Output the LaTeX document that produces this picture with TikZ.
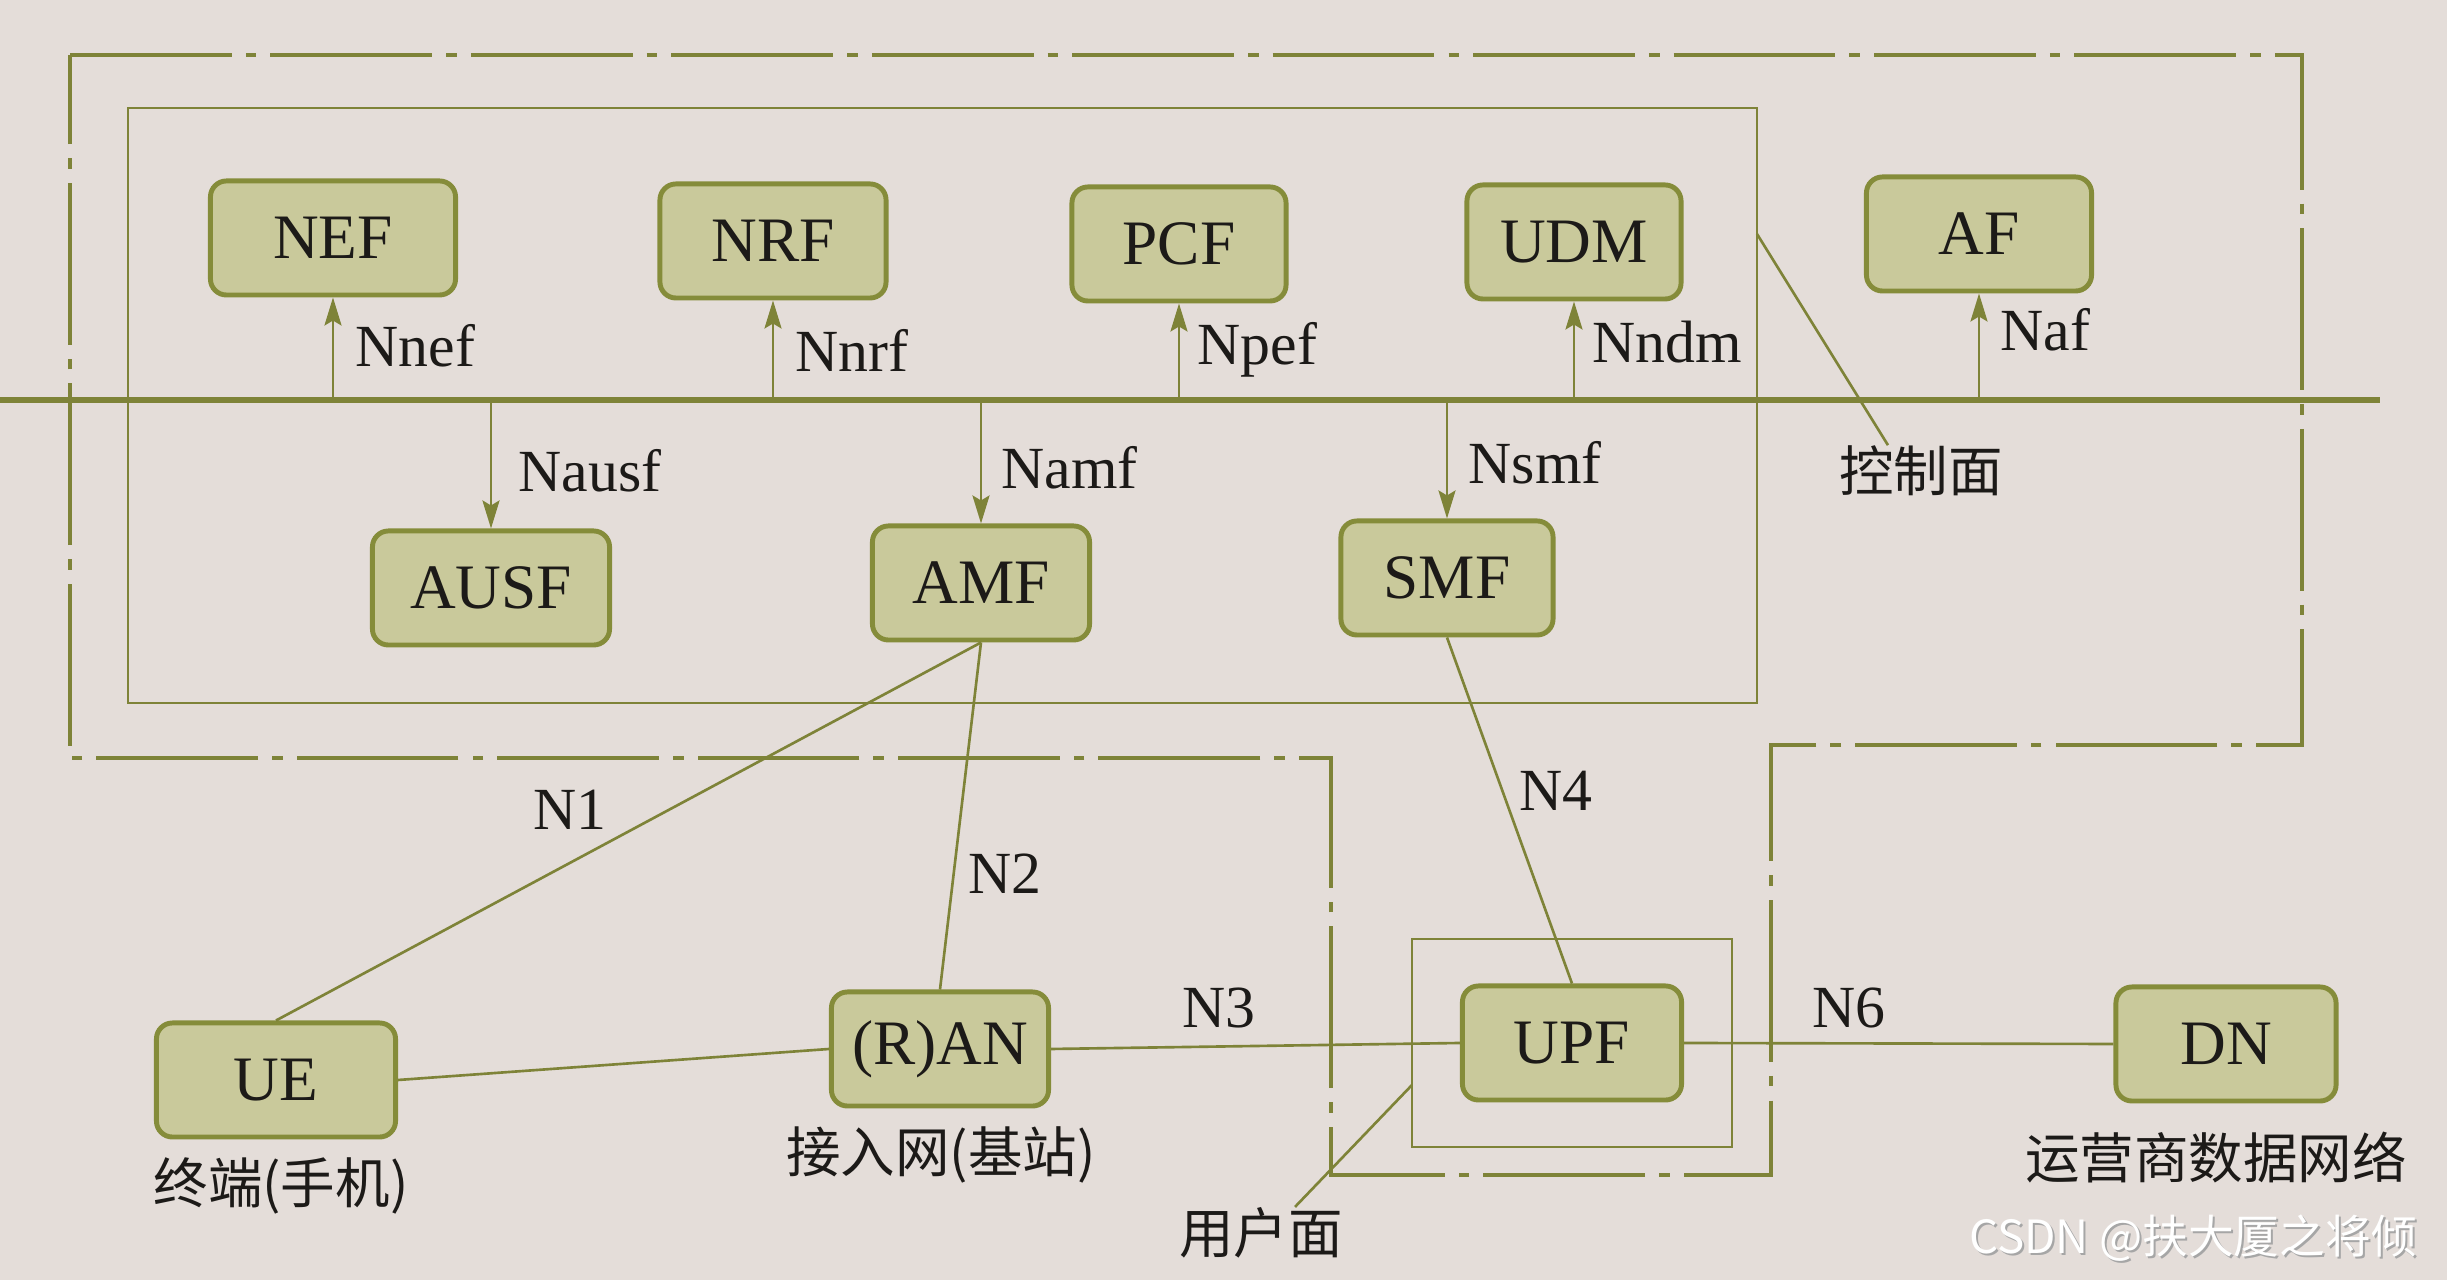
\documentclass[tikz,border=0pt]{standalone}
\usepackage{fontspec}
\setmainfont{Liberation Serif}
\newfontfamily\cjk{Noto Sans CJK SC}
\usetikzlibrary{arrows.meta,calc}
\definecolor{paper}{HTML}{E4DDD9}
\definecolor{olive}{HTML}{7E8338}
\definecolor{boxfill}{HTML}{C9C99B}
\definecolor{boxline}{HTML}{858C3A}
\definecolor{ink}{HTML}{1C1A18}
\begin{document}
\begin{tikzpicture}[x=0.01cm,y=-0.01cm,
  nf/.style={draw=boxline, line width=1.4pt, fill=boxfill, rounded corners=0.16cm,
    minimum height=1.14cm, text=ink, font=\fontsize{18}{20}\selectfont, inner sep=2pt},
  lbl/.style={text=ink, font=\fontsize{17}{19}\selectfont, inner sep=0pt},
  cn/.style={text=ink, font=\cjk\fontsize{15.5}{17}\selectfont, inner sep=0pt},
  thin/.style={draw=olive, line width=0.75pt},
  bus/.style={draw=olive, line width=1.7pt},
  arr/.style={draw=olive, line width=0.75pt, -{Stealth[length=0.28cm,width=0.17cm,inset=0.05cm]}},
  ddot/.style={draw=olive, line width=0.9pt, dash pattern=on 46pt off 4pt on 3pt off 4pt}
]
\fill[paper] (0,0) rectangle (2447,1280);
\useasboundingbox (0,0) rectangle (2447,1280);

% frames
\draw[ddot] (70,55) -- (2302,55) -- (2302,745) -- (1771,745) -- (1771,1175)
  -- (1331,1175) -- (1331,758) -- (70,758) -- cycle;
\draw[thin] (128,108) rectangle (1757,703);
\draw[thin] (1412,939) rectangle (1732,1147);

% service bus
\coordinate (busL) at (0,400);
\coordinate (busR) at (2380,400);
\draw[bus] (busL) -- (busR);

% nodes
\node[nf, minimum width=2.45cm] (NEF) at (333,238) {NEF};
\node[nf, minimum width=2.26cm] (NRF) at (773,241) {NRF};
\node[nf, minimum width=2.14cm] (PCF) at (1179,244) {PCF};
\node[nf, minimum width=2.14cm] (UDM) at (1574,242) {UDM};
\node[nf, minimum width=2.25cm] (AF)  at (1979,234) {AF};
\node[nf, minimum width=2.37cm] (AUSF) at (491,588) {AUSF};
\node[nf, minimum width=2.17cm] (AMF) at (981,583) {AMF};
\node[nf, minimum width=2.12cm] (SMF) at (1447,578) {SMF};
\node[nf, minimum width=2.39cm] (UE)  at (276,1080) {UE};
\node[nf, minimum width=2.17cm] (RAN) at (940,1049) {(R)AN};
\node[nf, minimum width=2.19cm] (UPF) at (1572,1043) {UPF};
\node[nf, minimum width=2.20cm] (DN)  at (2226,1044) {DN};

% service interfaces
\draw[arr] (NEF.south |- busL) -- (NEF.south);
\draw[arr] (NRF.south |- busL) -- (NRF.south);
\draw[arr] (PCF.south |- busL) -- (PCF.south);
\draw[arr] (UDM.south |- busL) -- (UDM.south);
\draw[arr] (AF.south |- busL) -- (AF.south);
\draw[arr] (AUSF.north |- busL) -- (AUSF.north);
\draw[arr] (AMF.north |- busL) -- (AMF.north);
\draw[arr] (SMF.north |- busL) -- (SMF.north);

\node[lbl, anchor=west] (lnef) at (355,346) {Nnef};
\node[lbl, anchor=west] (lnrf) at (795,350) {Nnrf};
\node[lbl, anchor=west] (lpcf) at (1197,350) {Npef};
\node[lbl, anchor=west] (ludm) at (1592,342) {Nndm};
\node[lbl, anchor=west] (laf)  at (2000,330) {Naf};
\node[lbl, anchor=west] (lausf) at (518,471) {Nausf};
\node[lbl, anchor=west] (lamf) at (1001,468) {Namf};
\node[lbl, anchor=west] (lsmf) at (1468,463) {Nsmf};

% reference points
\draw[thin] (UE.north) -- (AMF.south);
\draw[thin] (RAN.north) -- (AMF.south);
\draw[thin] (UE.east) -- (RAN.west);
\draw[thin] (RAN.east) -- (UPF.west);
\draw[thin] (SMF.south) -- (UPF.north);
\draw[thin] (UPF.east) -- (DN.west);

\node[lbl] (n1) at (570,810) {N1};
\node[lbl] (n2) at (1005,874) {N2};
\node[lbl] (n3) at (1219,1008) {N3};
\node[lbl] (n4) at (1556,791) {N4};
\node[lbl] (n6) at (1849,1008) {N6};

% Chinese labels
\node[cn] (ctrl) at (1921,471) {控制面};
\coordinate (cpR) at (1757,234);
\draw[thin] (cpR) -- ([xshift=-0.33cm]ctrl.north);
\node[cn] (uplab) at (1261,1233) {用户面};
\coordinate (upL) at (1412,1085);
\draw[thin] (upL) -- ([xshift=0.34cm]uplab.north);
\node[cn] (lue) at (281,1186) {终端(手机)};
\node[cn] (lran) at (941,1155) {接入网(基站)};
\node[cn] (ldn) at (2216,1158) {运营商数据网络};

% watermark
\node[font=\cjk\fontsize{13}{15}\selectfont, text=black!35, inner sep=0pt] at (2195,1240) {CSDN @扶大厦之将倾};
\node[font=\cjk\fontsize{13}{15}\selectfont, text=white, inner sep=0pt] (wm) at (2193,1238) {CSDN @扶大厦之将倾};
\end{tikzpicture}
\end{document}
